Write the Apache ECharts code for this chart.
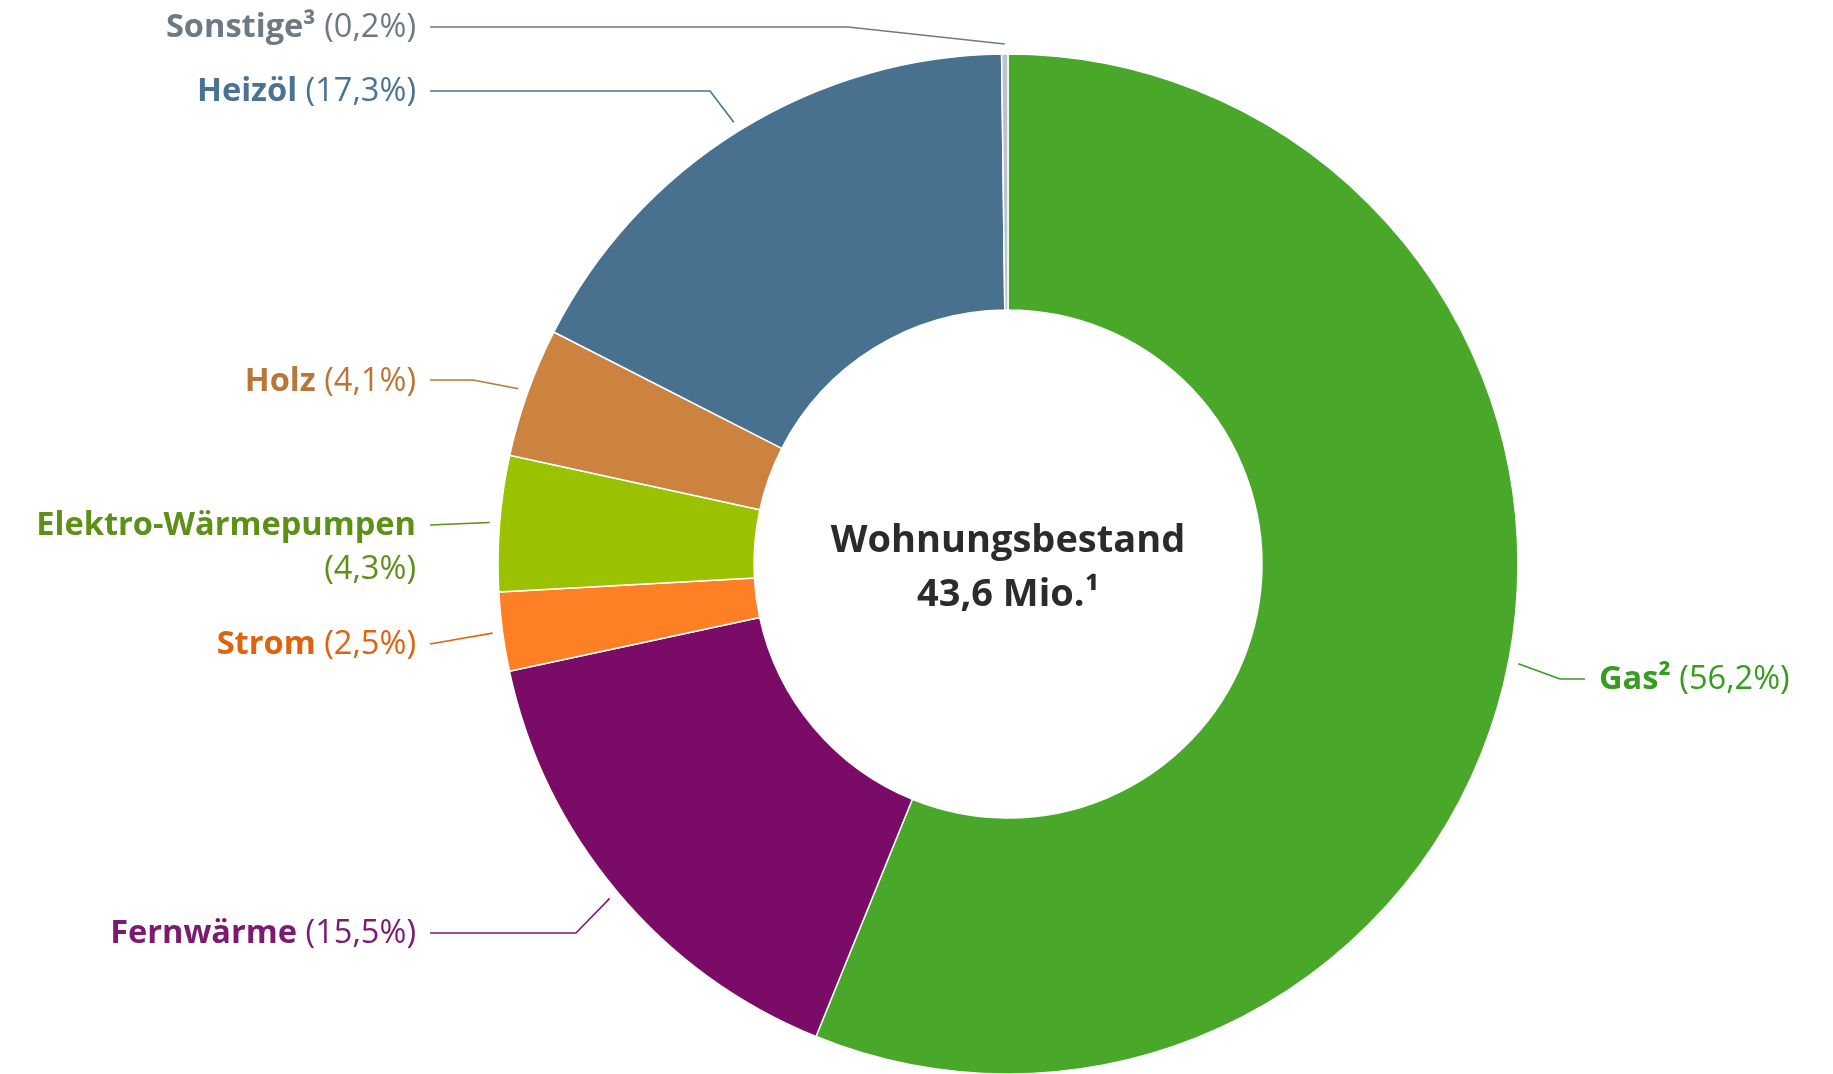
<!DOCTYPE html>
<html><head><meta charset="utf-8">
<script src="https://cdn.jsdelivr.net/npm/echarts@6/dist/echarts.min.js"></script>
<style>html,body{margin:0;padding:0;background:#fff}#c{width:1833px;height:1074px}</style>
</head><body><div id="c"></div>
<script>
// ---- data ----
const categories = ['Gas²', 'Fernwärme', 'Strom', 'Elektro-Wärmepumpen', 'Holz', 'Heizöl', 'Sonstige³'];
const shares = [56.2, 15.5, 2.5, 4.3, 4.1, 17.3, 0.2];
const centerTitle = 'Wohnungsbestand';
const centerValue = '43,6 Mio.¹';

// ---- styles ----
const sliceColors = ['#49a82a', '#7a0b67', '#ff7f24', '#9ac200', '#cc833f', '#47718f', '#b9c4cc'];
const labelColors = ['#379c1f', '#7b1a6e', '#e0620f', '#5c9017', '#b87737', '#4a7393', '#6d7a86'];
const CX = 1008, CY = 564, R_IN = 254, R_OUT = 510;
// label placement (annotation layout): label anchor x/y, guide line y, elbow x (null = straight)
const labelLayoutCfg = [
  { x: 1599, y: 680, align: 'left',  lineY: 679, elbowX: 1560 },
  { x: 416,  y: 934, align: 'right', lineY: 933, elbowX: 576 },
  { x: 416,  y: 645, align: 'right', lineY: 644, elbowX: null },
  { x: 416,  y: 548, align: 'right', lineY: 525, elbowX: null },
  { x: 416,  y: 382, align: 'right', lineY: 380, elbowX: 473 },
  { x: 416,  y: 92,  align: 'right', lineY: 91,  elbowX: 710 },
  { x: 416,  y: 28,  align: 'right', lineY: 27,  elbowX: 848 }
];

function fmt(v) { return '(' + v.toFixed(1).replace('.', ',') + '%)'; }

const FS = 32.6;
const rich = {};
const seriesData = categories.map(function (name, i) {
  rich['n' + i] = { fontFamily: 'Open Sans', fontWeight: 'bold', fontSize: FS, color: labelColors[i], lineHeight: 44 };
  rich['p' + i] = { fontFamily: 'Open Sans', fontWeight: 'normal', fontSize: FS, color: labelColors[i], lineHeight: 44 };
  const twoLine = name === 'Elektro-Wärmepumpen';
  return {
    name: name,
    value: shares[i],
    itemStyle: { color: sliceColors[i] },
    label: {
      formatter: '{n' + i + '|' + name + '}' + (twoLine ? '\n{p' + i + '|' : '{p' + i + '| ') + fmt(shares[i]) + '}',
      align: labelLayoutCfg[i].align
    },
    labelLine: { lineStyle: { color: labelColors[i], width: 1.6 } }
  };
});

const chart = echarts.init(document.getElementById('c'), null, { renderer: 'canvas' });
chart.setOption({
  backgroundColor: '#ffffff',
  animation: false,
  series: [{
    type: 'pie',
    center: [CX, CY],
    radius: [R_IN, R_OUT],
    startAngle: 90,
    clockwise: true,
    avoidLabelOverlap: false,
    itemStyle: { borderColor: '#ffffff', borderWidth: 1.5 },
    label: { show: true, position: 'outside', rich: rich, fontFamily: 'Open Sans', fontSize: FS },
    labelLine: { show: true, length: 20, length2: 30, smooth: false },
    emphasis: { disabled: true },
    data: seriesData,
    labelLayout: function (p) {
      const L = labelLayoutCfg[p.dataIndex];
      const s = p.labelLinePoints ? p.labelLinePoints[0] : [CX, CY];
      const dx = s[0] - CX, dy = s[1] - CY, d = Math.sqrt(dx * dx + dy * dy) || 1;
      const k = (d + 10) / d;
      const start = [CX + dx * k, CY + dy * k];
      const endX = L.align === 'left' ? L.x - 14 : L.x + 14;
      const mid = L.elbowX === null ? [(start[0] + endX) / 2, (start[1] + L.lineY) / 2] : [L.elbowX, L.lineY];
      return {
        x: L.x, y: L.y, align: L.align, verticalAlign: 'middle',
        labelLinePoints: [start, mid, [endX, L.lineY]]
      };
    }
  }],
  graphic: [{
    type: 'text',
    x: CX, y: CY + 4,
    style: {
      text: centerTitle + '\n' + centerValue,
      fontFamily: 'Open Sans', fontWeight: 'bold', fontSize: 38, lineHeight: 54,
      fill: '#2b2b2b', align: 'center', verticalAlign: 'middle'
    }
  }]
});
</script></body></html>
